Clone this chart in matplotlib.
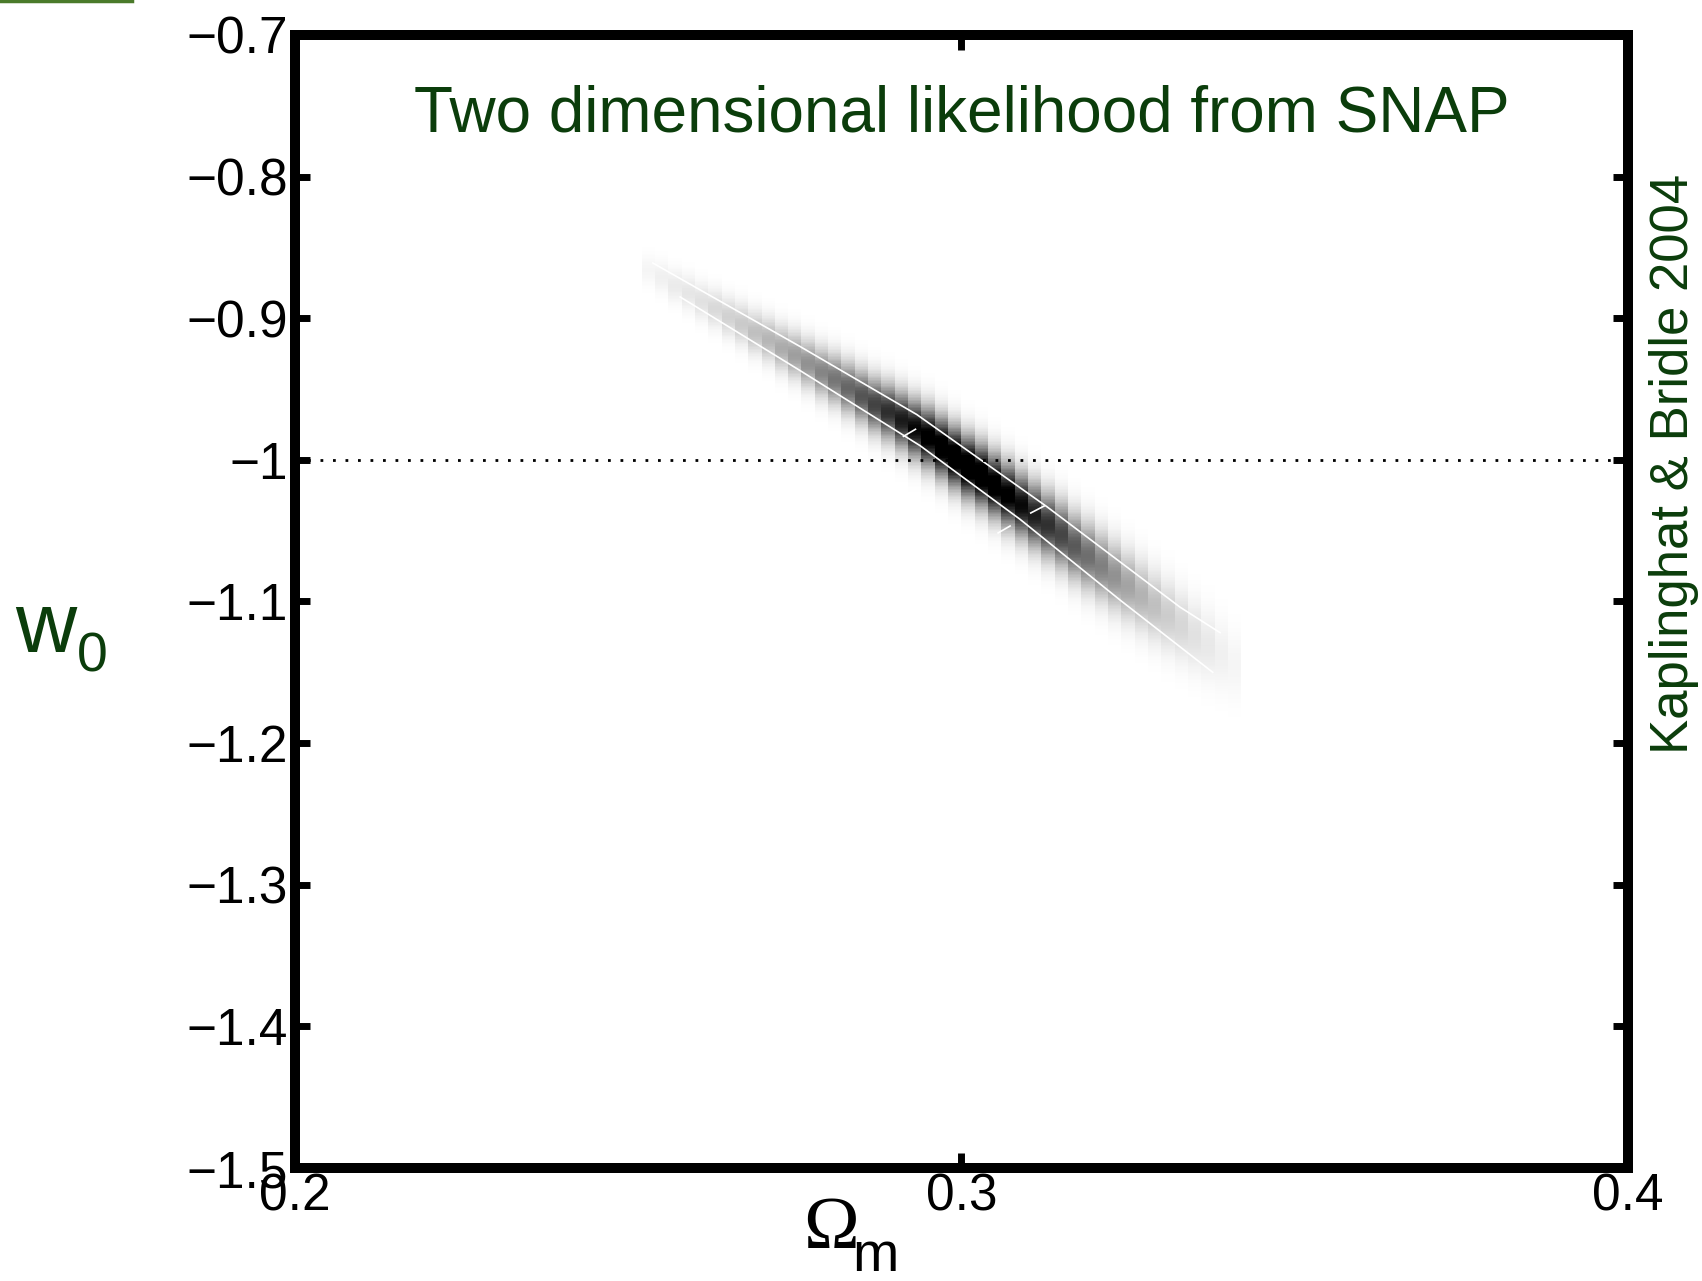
import numpy as np
import matplotlib
matplotlib.use("Agg")
import matplotlib.pyplot as plt
from matplotlib.lines import Line2D

plt.rcParams['font.family'] = ['Liberation Sans', 'DejaVu Sans']

# DATA

# column centres of the likelihood image (Omega_m), 0.002 wide
omega_cols = [0.253, 0.255, 0.257, 0.259, 0.261, 0.263, 0.265, 0.267, 0.269,
              0.271, 0.273, 0.275, 0.277, 0.279, 0.281, 0.283, 0.285, 0.287,
              0.289, 0.291, 0.293, 0.295, 0.297, 0.299, 0.301, 0.303, 0.305,
              0.307, 0.309, 0.311, 0.313, 0.315, 0.317, 0.319, 0.321, 0.323,
              0.325, 0.327, 0.329, 0.331, 0.333, 0.335, 0.337, 0.339, 0.341]

# ridge centre in w0 for each column
w_centre = [-0.866, -0.871, -0.877, -0.882, -0.888, -0.893, -0.899, -0.904,
            -0.910, -0.915, -0.921, -0.926, -0.932, -0.938, -0.943, -0.949,
            -0.955, -0.961, -0.966, -0.972, -0.978, -0.984, -0.991, -0.998,
            -1.005, -1.011, -1.018, -1.025, -1.032, -1.039, -1.046, -1.053,
            -1.061, -1.068, -1.075, -1.082, -1.089, -1.096, -1.103, -1.110,
            -1.117, -1.124, -1.131, -1.138, -1.145]

# spread in w0 for each column
w_spread = [0.0075, 0.0078, 0.0081, 0.0084, 0.0087, 0.0090, 0.0093, 0.0096,
            0.0099, 0.0102, 0.0105, 0.0108, 0.0111, 0.0114, 0.0117, 0.0120,
            0.0123, 0.0126, 0.0129, 0.0132, 0.0135, 0.0137, 0.0138, 0.0140,
            0.0141, 0.0143, 0.0144, 0.0146, 0.0147, 0.0149, 0.0150, 0.0152,
            0.0153, 0.0155, 0.0156, 0.0158, 0.0159, 0.0161, 0.0162, 0.0164,
            0.0165, 0.0167, 0.0168, 0.0170, 0.0171]

# peak likelihood (darkness) for each column
peak = [0.04, 0.06, 0.08, 0.10, 0.12, 0.15, 0.18, 0.21, 0.25, 0.29, 0.33,
        0.38, 0.43, 0.48, 0.54, 0.60, 0.67, 0.74, 0.82, 0.90, 0.98, 1.05,
        1.12, 1.16, 1.18, 1.15, 1.10, 1.04, 0.97, 0.89, 0.81, 0.73, 0.65,
        0.57, 0.50, 0.43, 0.36, 0.30, 0.25, 0.20, 0.16, 0.12, 0.09, 0.06,
        0.04]

# white contour lines
upper_om = [0.2537, 0.2608, 0.2758, 0.2933, 0.3128, 0.3328, 0.3388]
upper_w = [-0.861, -0.880, -0.920, -0.968, -1.033, -1.104, -1.122]
lower_om = [0.2578, 0.2758, 0.2938, 0.3088, 0.3238, 0.3377]
lower_w = [-0.885, -0.937, -0.990, -1.042, -1.099, -1.150]

# small inner contour fragments
frag_om = [[0.2913, 0.2931], [0.3104, 0.3124], [0.3055, 0.3073]]
frag_w = [[-0.9834, -0.9784], [-1.0375, -1.0326], [-1.0516, -1.0467]]

y_ticks = [-0.7, -0.8, -0.9, -1.0, -1.1, -1.2, -1.3, -1.4, -1.5]
y_labels = ['\u22120.7', '\u22120.8', '\u22120.9', '\u22121', '\u22121.1',
            '\u22121.2', '\u22121.3', '\u22121.4', '\u22121.5']
x_ticks = [0.2, 0.3, 0.4]
x_labels = ['0.2', '0.3', '0.4']

green = '#0b3d0b'

# LIKELIHOOD GRID

om_edges = np.append(np.array(omega_cols) - 0.001, omega_cols[-1] + 0.001)
w_grid = np.arange(-1.25, -0.78, 0.001)
w_edges = np.append(w_grid - 0.0005, w_grid[-1] + 0.0005)

Z = np.zeros((len(w_grid), len(omega_cols)))
for i in range(len(omega_cols)):
    Z[:, i] = peak[i] * np.exp(-0.5 * ((w_grid - w_centre[i]) / w_spread[i])**2)

# FIGURE

fig = plt.figure(figsize=(17.02, 12.81), dpi=100)
ax = fig.add_axes([0.1733, 0.0882, 0.7832, 0.8845])

ax.pcolormesh(om_edges, w_edges, Z, cmap='gray_r', vmin=0, vmax=1,
              shading='flat')

ax.plot(upper_om, upper_w, color='white', lw=1.2)
ax.plot(lower_om, lower_w, color='white', lw=1.2)
for fo, fw in zip(frag_om, frag_w):
    ax.plot(fo, fw, color='white', lw=1.2)

ax.axhline(-1.0, color='black', lw=2.0, linestyle=(0, (1, 3.5)))

ax.set_xlim(0.2, 0.4)
ax.set_ylim(-1.5, -0.7)

ax.set_xticks(x_ticks)
ax.set_xticklabels(x_labels)
ax.set_yticks(y_ticks)
ax.set_yticklabels(y_labels)

ax.tick_params(direction='in', length=11, width=5, labelsize=37,
               top=True, right=True, colors='black')
ax.tick_params(axis='x', pad=3)
ax.tick_params(axis='y', pad=5)

for s in ax.spines.values():
    s.set_linewidth(7.2)

# TEXTS

ax.text(0.5, 0.915, 'Two dimensional likelihood from SNAP', transform=ax.transAxes,
        ha='center', va='baseline', fontsize=46, color=green)

fig.text(1674 / 1702, 1 - 464 / 1281, 'Kaplinghat & Bridle 2004', rotation=90,
         ha='center', va='center', fontsize=38, color=green)

fig.text(15 / 1702, 1 - 652 / 1281, 'w', fontsize=61, color=green,
         ha='left', va='baseline')
fig.text(77 / 1702, 1 - 672 / 1281, '0', fontsize=40, color=green,
         ha='left', va='baseline')

fig.text(803 / 1702, 1 - 1248 / 1281, '\u03a9', fontsize=54, color='black',
         family=['Liberation Serif', 'DejaVu Serif'], ha='left', va='baseline')
fig.text(852 / 1702, 1 - 1271 / 1281, 'm', fontsize=40, color='black',
         ha='left', va='baseline')

# slide artifact top-left
fig.add_artist(Line2D([0, 132 / 1702], [1 - 1 / 1281, 1 - 1 / 1281],
                      color='#4a7a2a', lw=2.5, transform=fig.transFigure))

fig.savefig('out.png', dpi=100)
